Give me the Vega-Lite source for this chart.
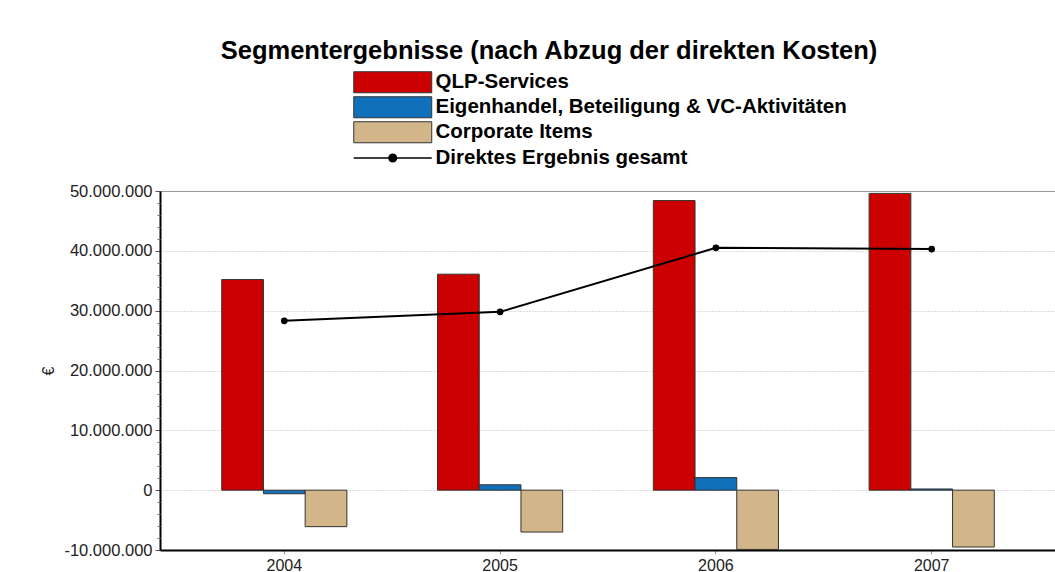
{
  "$schema": "https://vega.github.io/schema/vega-lite/v6.json",
  "width": 896,
  "height": 359,
  "autosize": {"type": "none"},
  "padding": {"left": 160, "top": 191, "right": 0, "bottom": 22},
  "background": "white",
  "config": {
    "locale": {"number": {"decimal": ",", "thousands": ".", "grouping": [3], "currency": ["", " €"], "minus": "-"}},
    "font": "Liberation Sans",
    "view": {"stroke": "#888", "strokeWidth": 1}
  },
  "title": {
    "text": "Segmentergebnisse (nach Abzug der direkten Kosten)",
    "fontSize": 25.5, "fontWeight": "bold", "font": "Liberation Sans", "color": "#000",
    "anchor": "middle", "frame": "group", "dx": -59, "offset": 8
  },
  "datasets": {
    "bars": [
      {"year": "2004", "series": "QLP-Services", "value": 35200000},
      {"year": "2004", "series": "Eigenhandel, Beteiligung & VC-Aktivitäten", "value": -600000},
      {"year": "2004", "series": "Corporate Items", "value": -6100000},
      {"year": "2005", "series": "QLP-Services", "value": 36100000},
      {"year": "2005", "series": "Eigenhandel, Beteiligung & VC-Aktivitäten", "value": 900000},
      {"year": "2005", "series": "Corporate Items", "value": -7000000},
      {"year": "2006", "series": "QLP-Services", "value": 48400000},
      {"year": "2006", "series": "Eigenhandel, Beteiligung & VC-Aktivitäten", "value": 2100000},
      {"year": "2006", "series": "Corporate Items", "value": -9900000},
      {"year": "2007", "series": "QLP-Services", "value": 49600000},
      {"year": "2007", "series": "Eigenhandel, Beteiligung & VC-Aktivitäten", "value": 200000},
      {"year": "2007", "series": "Corporate Items", "value": -9500000}
    ],
    "total": [
      {"year": "2004", "value": 28300000},
      {"year": "2005", "value": 29800000},
      {"year": "2006", "value": 40500000},
      {"year": "2007", "value": 40300000}
    ]
  },
  "layer": [
    {
      "data": {"name": "bars"},
      "mark": {"type": "bar", "stroke": "#333", "strokeWidth": 1},
      "encoding": {
        "x": {
          "field": "year", "type": "nominal",
          "scale": {"type": "band", "paddingInner": 0.42, "paddingOuter": 0.286},
          "axis": {"title": null, "labelAngle": 0, "labelFontSize": 16, "labelColor": "#222", "tickSize": 4, "tickColor": "#999", "domainColor": "#000", "domainWidth": 2, "labelPadding": 3}
        },
        "xOffset": {"field": "series", "type": "nominal", "sort": ["QLP-Services", "Eigenhandel, Beteiligung & VC-Aktivitäten", "Corporate Items"]},
        "y": {
          "field": "value", "type": "quantitative",
          "scale": {"domain": [-10000000, 50000000], "nice": false, "zero": false},
          "axis": {
            "title": "€", "titleFontSize": 16, "titleFontWeight": "normal", "titleColor": "#222", "titleAngle": -90,
            "titleX": -112, "titleY": 179.5, "titleBaseline": "middle", "titleAlign": "center",
            "values": [-10000000, 0, 10000000, 20000000, 30000000, 40000000, 50000000],
            "format": ",d", "labelFontSize": 16.5, "labelColor": "#222", "tickSize": 5, "tickColor": "#555", "labelPadding": 3,
            "domainColor": "#000", "domainWidth": 2, "grid": true, "gridColor": "#bbb", "gridDash": [1, 2]
          }
        },
        "fill": {
          "field": "series", "type": "nominal",
          "scale": {"domain": ["QLP-Services", "Eigenhandel, Beteiligung & VC-Aktivitäten", "Corporate Items"], "range": ["#CC0000", "#1170BA", "#D2B68A"]},
          "legend": {
            "orient": "none", "legendX": 222.5, "legendY": -119, "title": null, "padding": 0,
            "symbolType": "M-4.333,-1.167H4.333V1.167H-4.333Z", "symbolSize": 324,
            "symbolStrokeColor": "#333", "symbolStrokeWidth": 1, "symbolOpacity": 1,
            "labelFontSize": 20.5, "labelFont": "Liberation Sans", "labelFontWeight": "bold", "labelColor": "#000",
            "labelOffset": 32.5, "rowPadding": -1, "labelLimit": 700
          }
        }
      }
    },
    {
      "mark": {"type": "rule", "color": "#000", "strokeWidth": 1},
      "encoding": {"y": {"datum": 0, "axis": null}}
    },
    {
      "data": {"name": "total"},
      "mark": {"type": "line", "strokeWidth": 2},
      "encoding": {
        "x": {"field": "year", "type": "nominal"},
        "y": {
          "field": "value", "type": "quantitative",
          "axis": {
            "orient": "left", "title": null, "labels": false, "domain": false, "grid": false, "tickSize": 3, "tickColor": "#777",
            "values": [-8000000, -6000000, -4000000, -2000000, 2000000, 4000000, 6000000, 8000000, 12000000, 14000000, 16000000, 18000000, 22000000, 24000000, 26000000, 28000000, 32000000, 34000000, 36000000, 38000000, 42000000, 44000000, 46000000, 48000000]
          }
        },
        "stroke": {
          "datum": "Direktes Ergebnis gesamt",
          "scale": {"range": ["#000"]},
          "legend": {
            "orient": "none", "legendX": 222.5, "legendY": -43.3, "title": null, "padding": 0,
            "symbolType": "M-4.333,0H4.333M-0.42,0A0.42,0.42 0 1,0 0.42,0A0.42,0.42 0 1,0 -0.42,0",
            "symbolSize": 324, "symbolFillColor": "#000", "symbolStrokeWidth": 1.5,
            "labelFontSize": 20.5, "labelFont": "Liberation Sans", "labelFontWeight": "bold", "labelColor": "#000",
            "labelOffset": 32.5, "labelLimit": 700
          }
        }
      }
    },
    {
      "data": {"name": "total"},
      "mark": {"type": "point", "filled": true, "color": "#000", "size": 45, "opacity": 1},
      "encoding": {
        "x": {"field": "year", "type": "nominal"},
        "y": {"field": "value", "type": "quantitative", "axis": null}
      }
    }
  ],
  "resolve": {"axis": {"y": "independent"}}
}
